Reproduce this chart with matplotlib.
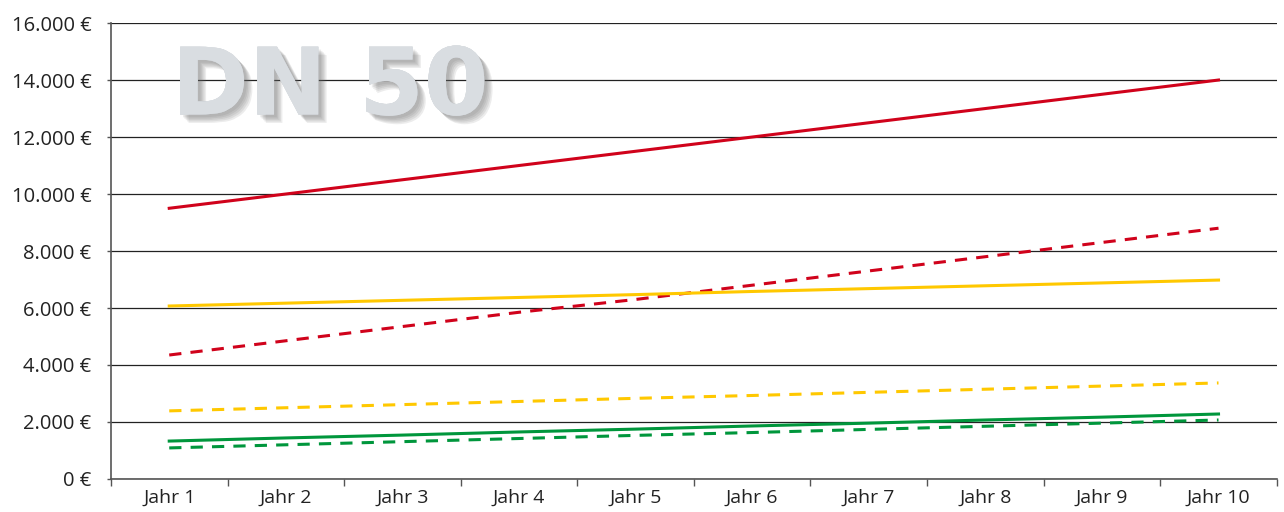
import matplotlib

matplotlib.use("Agg")
import matplotlib.pyplot as plt
import matplotlib.patheffects as pe
from matplotlib.ticker import FixedLocator, FuncFormatter

years = ["Jahr 1", "Jahr 2", "Jahr 3", "Jahr 4", "Jahr 5",
         "Jahr 6", "Jahr 7", "Jahr 8", "Jahr 9", "Jahr 10"]

red_solid = [9500, 10000, 10500, 11000, 11500, 12000, 12500, 13000, 13500, 14000]
red_dashed = [4350, 4850, 5350, 5850, 6300, 6800, 7300, 7800, 8300, 8800]
yellow_solid = [6070, 6170, 6270, 6370, 6470, 6580, 6680, 6780, 6880, 6980]
yellow_dashed = [2390, 2500, 2610, 2720, 2830, 2930, 3040, 3150, 3260, 3370]
green_solid = [1330, 1440, 1540, 1650, 1750, 1860, 1960, 2070, 2170, 2280]
green_dashed = [1090, 1200, 1310, 1420, 1530, 1630, 1740, 1850, 1960, 2070]

y_ticks = [0, 2000, 4000, 6000, 8000, 10000, 12000, 14000, 16000]

RED = "#d0021b"
YELLOW = "#ffc800"
GREEN = "#00963c"

plt.rcParams["font.family"] = ["Open Sans", "DejaVu Sans"]

fig = plt.figure(figsize=(12.84, 5.12), dpi=100)
ax = fig.add_axes([0.0864, 0.0645, 0.908, 0.8905])

x = list(range(len(years)))
for vals, col, ls in [
    (red_solid, RED, "-"), (red_dashed, RED, (0, (4, 3))),
    (yellow_solid, YELLOW, "-"), (yellow_dashed, YELLOW, (0, (4, 3))),
    (green_solid, GREEN, "-"), (green_dashed, GREEN, (0, (4, 3))),
]:
    ax.plot(x, vals, color=col, lw=2.2, linestyle=ls, zorder=3)

ax.set_xlim(-0.5, len(years) - 0.5)
ax.set_ylim(0, 16000)
ax.set_yticks(y_ticks)
ax.yaxis.set_major_formatter(FuncFormatter(lambda v, p: f"{int(v):,} €".replace(",", ".")))
ax.grid(axis="y", color="#222222", lw=0.9, zorder=1)

ax.xaxis.set_major_locator(FixedLocator([i - 0.5 for i in range(len(years) + 1)]))
ax.xaxis.set_minor_locator(FixedLocator(x))
ax.set_xticklabels([""] * (len(years) + 1))
ax.set_xticklabels(years, minor=True)
ax.tick_params(axis="x", which="major", length=5, width=1, color="#555555", direction="out")
ax.tick_params(axis="x", which="minor", length=0, pad=7, labelsize=14, labelcolor="#222222")
ax.tick_params(axis="y", length=3, width=1, color="#555555", pad=11, labelsize=14.5, labelcolor="#222222")

for s in ["top", "right"]:
    ax.spines[s].set_visible(False)
for s in ["left", "bottom"]:
    ax.spines[s].set_color("#555555")
    ax.spines[s].set_linewidth(1.2)

# soft drop shadow built from a few offset layers
shadow = [pe.withSimplePatchShadow(offset=(dx, -dy), shadow_rgbFace="#666666", alpha=0.12)
          for dx, dy in [(2, 2), (3, 3), (4, 4), (5, 5), (6, 6)]]
ax.text(1.38, 13700, "DN 50", family="DejaVu Sans", fontsize=67, fontweight="bold",
        color="#d9dde1", ha="center", va="center", zorder=4,
        path_effects=shadow)

fig.savefig("out.png", dpi=100)
